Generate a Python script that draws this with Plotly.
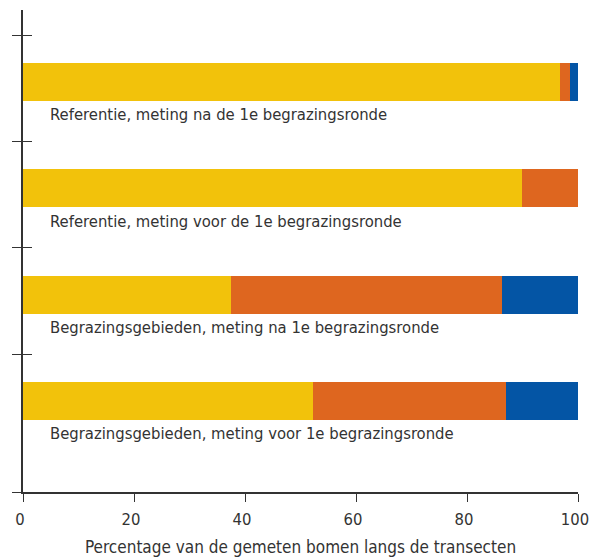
import plotly.graph_objects as go

# categories, top to bottom as in the picture
categories = [
    "Referentie, meting na de 1e begrazingsronde",
    "Referentie, meting voor de 1e begrazingsronde",
    "Begrazingsgebieden, meting na 1e begrazingsronde",
    "Begrazingsgebieden, meting voor 1e begrazingsronde",
]
serie_geel = [96.8, 89.9, 37.5, 52.3]
serie_oranje = [1.8, 10.1, 48.8, 34.7]
serie_blauw = [1.4, 0.0, 13.7, 13.0]
x_ticks = [0, 20, 40, 60, 80, 100]

kleuren = ["#F2C20B", "#DE661F", "#0455A5"]
tekst_kleur = "#333333"
lettertype = "DejaVu Sans Condensed"

# posities: bovenste categorie hoogst
n = len(categories)
ypos = [n - 1 - i for i in range(n)]
y_range = [-0.856, n - 1 + 0.677]
scheiding = [i + 0.44 for i in range(n)]

fig = go.Figure()
for waarden, kleur in zip([serie_geel, serie_oranje, serie_blauw], kleuren):
    fig.add_trace(go.Bar(
        x=waarden,
        y=ypos,
        orientation="h",
        width=0.357,
        marker=dict(color=kleur, line=dict(width=0)),
        showlegend=False,
        hoverinfo="x",
    ))

# labels onder de balken
for cat, y in zip(categories, ypos):
    fig.add_annotation(
        x=4.5, y=y - 0.31, xref="x", yref="y",
        text=cat, showarrow=False, xanchor="left", yanchor="middle",
        font=dict(family=lettertype, size=16.5, color=tekst_kleur),
    )

# tweede as voor de streepjes die naar binnen wijzen
fig.add_trace(go.Scatter(x=[None], y=[None], yaxis="y2", showlegend=False))

fig.update_layout(
    width=589,
    height=557,
    barmode="stack",
    bargap=0,
    plot_bgcolor="white",
    paper_bgcolor="white",
    margin=dict(l=23, r=11, t=10, b=65),
    font=dict(family=lettertype, size=16, color=tekst_kleur),
    xaxis=dict(
        range=[0, 100],
        tickvals=x_ticks,
        ticks="outside",
        ticklen=8,
        tickcolor=tekst_kleur,
        showline=True,
        linecolor=tekst_kleur,
        linewidth=1.5,
        showgrid=False,
        zeroline=False,
        automargin=False,
        ticklabeloverflow="allow",
        ticklabelshift=-3,
        ticklabelstandoff=3,
        tickfont=dict(size=16.5, color=tekst_kleur),
        title=dict(text="Percentage van de gemeten bomen langs de transecten",
                   font=dict(size=17, color=tekst_kleur), standoff=14),
    ),
    yaxis=dict(
        range=y_range,
        tickvals=[y_range[0]] + scheiding,
        ticks="outside",
        ticklen=9,
        tickcolor=tekst_kleur,
        showticklabels=False,
        showline=True,
        linecolor=tekst_kleur,
        linewidth=1.5,
        showgrid=False,
        zeroline=False,
        automargin=False,
    ),
    yaxis2=dict(
        range=y_range,
        overlaying="y",
        side="left",
        anchor="x",
        tickvals=scheiding,
        ticks="inside",
        ticklen=9,
        tickcolor=tekst_kleur,
        showticklabels=False,
        showline=False,
        showgrid=False,
        zeroline=False,
        automargin=False,
    ),
)

# geen body-marge in de pagina, dan past de figuur precies
fig.write_html(
    "out.html",
    config={"displayModeBar": False},
    post_script="document.body.style.margin='0';document.body.style.overflow='hidden';",
)
